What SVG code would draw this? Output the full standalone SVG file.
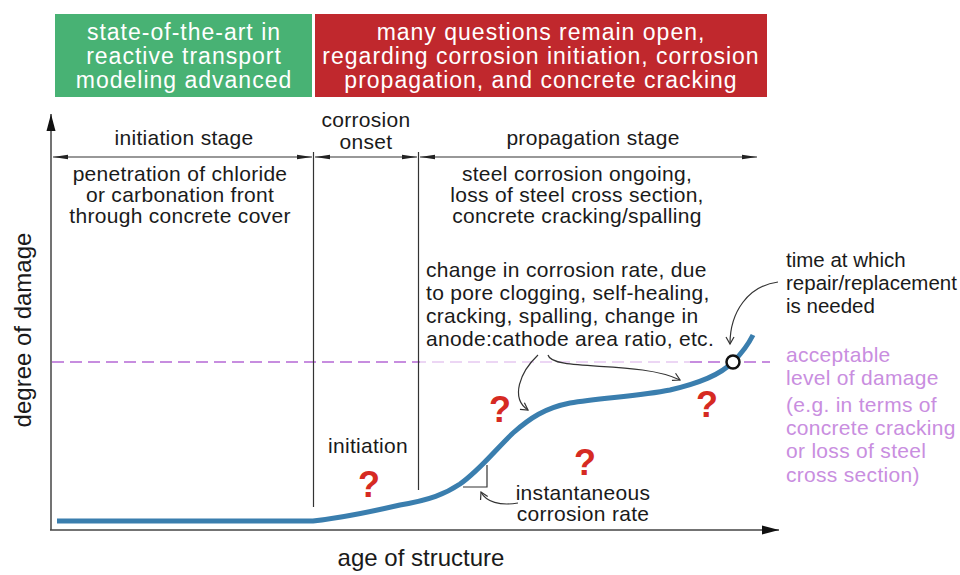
<svg xmlns="http://www.w3.org/2000/svg" width="960" height="575" viewBox="0 0 960 575">
<defs>
<style>
text{font-family:"Liberation Sans",Arial,Helvetica,sans-serif;}
.t{font-size:21px;fill:#1a1a1a;letter-spacing:0.3px;}
.c{text-anchor:middle;}
.n{letter-spacing:0;font-size:20.5px;}
.hdr{font-size:23px;fill:#ffffff;text-anchor:middle;letter-spacing:1px;}
.pur{font-size:21px;fill:#c98ee0;letter-spacing:0.3px;}
.q{font-size:36px;font-weight:bold;fill:#d62a22;text-anchor:middle;}
.ax{font-size:24px;fill:#1a1a1a;text-anchor:middle;}
.thin{stroke:#333;stroke-width:1.2;fill:none;}
.dim{stroke:#333;stroke-width:1.2;fill:none;marker-start:url(#dh);marker-end:url(#dh);}
.lab{stroke:#333;stroke-width:1.2;fill:none;marker-end:url(#oh);}
</style>
<marker id="dh" markerUnits="userSpaceOnUse" markerWidth="16" markerHeight="6" refX="15" refY="3" orient="auto-start-reverse">
<path d="M0,0.8 L15,3 L0,5.2 z" fill="#222"/>
</marker>
<marker id="ah" markerUnits="userSpaceOnUse" markerWidth="18" markerHeight="10" refX="17" refY="5" orient="auto">
<path d="M0,0.5 L17,5 L0,9.5 z" fill="#111"/>
</marker>
<marker id="oh" markerUnits="userSpaceOnUse" markerWidth="10" markerHeight="10" refX="8" refY="5" orient="auto">
<path d="M1,1 L8,5 L1,9" fill="none" stroke="#333" stroke-width="1.2"/>
</marker>
</defs>
<rect width="960" height="575" fill="#ffffff"/>

<g id="box-state">
<rect x="55" y="14" width="257" height="83" fill="#48b274"/>
<text class="hdr" x="184" y="40">state-of-the-art in</text>
<text class="hdr" x="184" y="64">reactive transport</text>
<text class="hdr" x="184" y="88">modeling advanced</text>
</g>
<g id="box-questions">
<rect x="315" y="14" width="452" height="83" fill="#c0282d"/>
<text class="hdr" x="541" y="40">many questions remain open,</text>
<text class="hdr" x="541" y="64">regarding corrosion initiation, corrosion</text>
<text class="hdr" x="541" y="88">propagation, and concrete cracking</text>
</g>

<g id="axes">
<line x1="51" y1="530" x2="51" y2="114" stroke="#444" stroke-width="1.5" marker-end="url(#ah)"/>
<line x1="50" y1="530" x2="779" y2="530" stroke="#444" stroke-width="1.5" marker-end="url(#ah)"/>
<text class="ax" transform="translate(31,330) rotate(-90)">degree of damage</text>
<text class="ax" x="421" y="566">age of structure</text>
</g>

<g id="threshold">
<line x1="52" y1="362" x2="420" y2="362" stroke="#c78ddf" stroke-width="2" stroke-dasharray="12,6"/>
<line x1="420" y1="362" x2="690" y2="362" stroke="#ecd6f4" stroke-width="2" stroke-dasharray="12,6" stroke-dashoffset="6"/>
<line x1="690" y1="362" x2="770" y2="362" stroke="#c78ddf" stroke-width="2" stroke-dasharray="12,6"/>
</g>

<g id="stage-lines">
<line class="thin" x1="313.5" y1="152" x2="313.5" y2="507"/>
<line class="thin" x1="418.5" y1="152" x2="418.5" y2="490"/>
</g>

<g id="connectors">
<line class="dim" x1="53" y1="157" x2="312" y2="157"/>
<line class="dim" x1="315" y1="157" x2="417" y2="157"/>
<line class="dim" x1="420" y1="157" x2="757" y2="157"/>
<path class="lab" d="M538,355 C520,372 510,398 528,410"/>
<path class="lab" d="M548,355 C552,372 640,360 680,380"/>
<path class="lab" d="M778,282 C748,286 730,312 730,344"/>
<path class="lab" d="M518,503 C500,506 486,502 481,492"/>
<path d="M463,487 L487,487 L487,465" stroke="#333" stroke-width="1.2" fill="none"/>
</g>

<g id="damage-curve">
<path d="M57,521 L313,521 C340,518 370,512 400,505 C430,500 445,494 460,484 C480,470 495,450 513,433 C530,418 545,408 570,403 C600,398 640,396 670,390 C700,383 720,375 733,362 C742,353 748,345 753,335" fill="none" stroke="#3a7eae" stroke-width="5" stroke-linecap="butt"/>
<circle cx="733" cy="362" r="6.5" fill="#ffffff" stroke="#111" stroke-width="2.5"/>
</g>

<g id="label-initiation-stage">
<text class="t c" x="184" y="145">initiation stage</text>
<text class="t c" x="180" y="181">penetration of chloride</text>
<text class="t c" x="180" y="202">or carbonation front</text>
<text class="t c" x="180" y="223">through concrete cover</text>
</g>
<g id="label-onset">
<text class="t c" x="366" y="127">corrosion</text>
<text class="t c" x="366" y="149">onset</text>
</g>
<g id="label-propagation">
<text class="t c" x="593" y="145">propagation stage</text>
<text class="t c" x="577" y="181">steel corrosion ongoing,</text>
<text class="t c" x="577" y="202">loss of steel cross section,</text>
<text class="t c" x="577" y="223">concrete cracking/spalling</text>
</g>
<g id="label-change">
<text class="t" x="426" y="277">change in corrosion rate, due</text>
<text class="t" x="426" y="300">to pore clogging, self-healing,</text>
<text class="t" x="426" y="323">cracking, spalling, change in</text>
<text class="t" x="426" y="346">anode:cathode area ratio, etc.</text>
</g>
<g id="label-time">
<text class="t n" x="786" y="267">time at which</text>
<text class="t n" x="786" y="290">repair/replacement</text>
<text class="t n" x="786" y="313">is needed</text>
</g>
<g id="label-acceptable">
<text class="pur" x="786" y="362">acceptable</text>
<text class="pur" x="786" y="385">level of damage</text>
<text class="pur" x="786" y="412">(e.g. in terms of</text>
<text class="pur" x="786" y="435">concrete cracking</text>
<text class="pur" x="786" y="458">or loss of steel</text>
<text class="pur" x="786" y="482">cross section)</text>
</g>
<g id="label-initiation">
<text class="t c" x="368" y="453">initiation</text>
</g>
<g id="label-rate">
<text class="t c" x="583" y="500">instantaneous</text>
<text class="t c" x="583" y="521">corrosion rate</text>
</g>
<g id="question-marks">
<text class="q" x="369" y="497">?</text>
<text class="q" x="500" y="422">?</text>
<text class="q" x="585" y="475">?</text>
<text class="q" x="707" y="417">?</text>
</g>
</svg>
